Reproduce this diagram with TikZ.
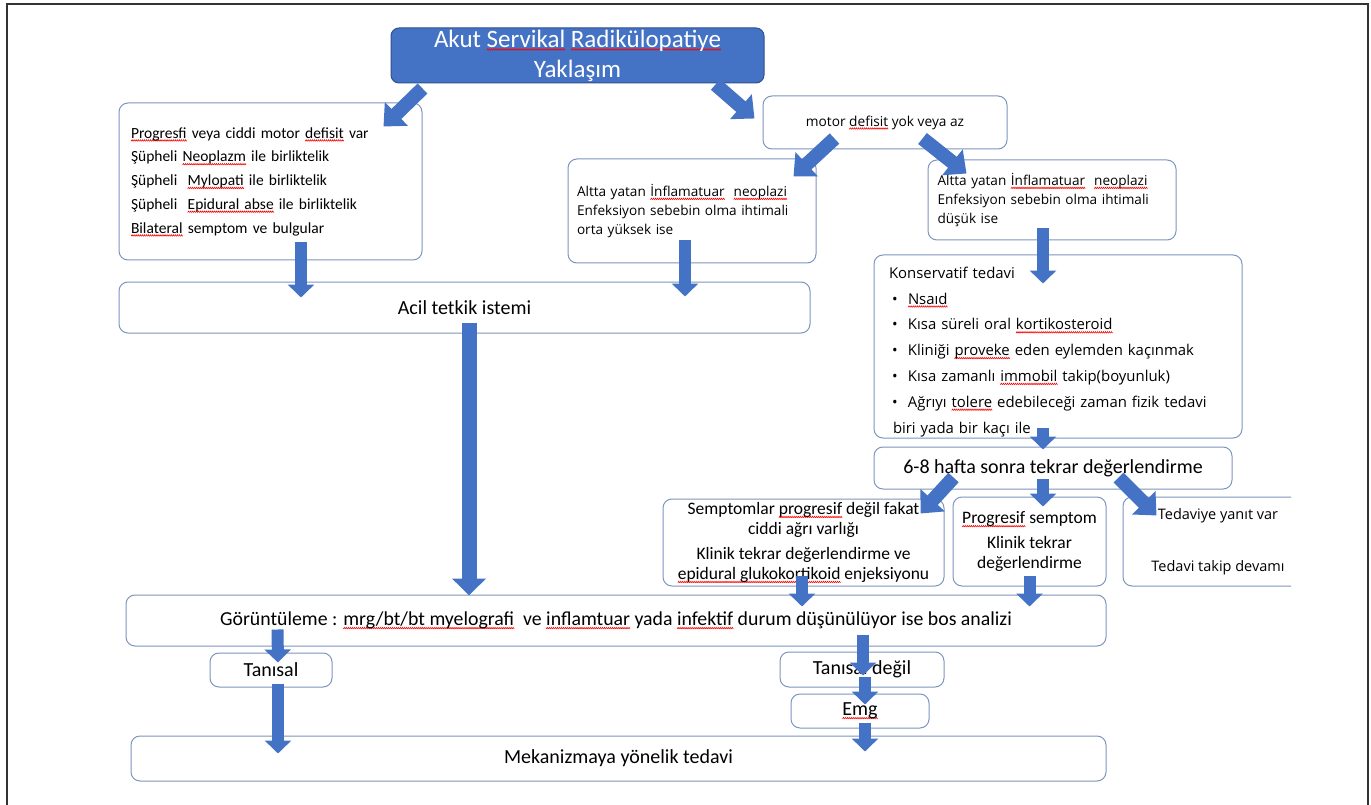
\documentclass[tikz,border=0pt]{standalone}
\usepackage{fontspec}
\setmainfont{Carlito}
\newfontfamily\seg{Open Sans}
\usetikzlibrary{arrows.meta,calc}
\definecolor{bblue}{HTML}{4472C4}
\definecolor{bdark}{HTML}{2F528F}
\definecolor{bord}{RGB}{125,150,190}
\newsavebox\wavebox
\newsavebox\sqwbox
\newcommand\sqw[1]{\sbox\sqwbox{#1}\leavevmode\rlap{\raisebox{-3.2pt}[0pt][0pt]{\hbox to \wd\sqwbox{\xleaders\copy\wavebox\hfil}}}#1}
\begin{document}
\sbox\wavebox{\begin{pgfpicture}%
\pgfsetlinewidth{0.6pt}\pgfsetstrokecolor{red}%
\pgfpathmoveto{\pgfpoint{0pt}{0pt}}\pgfpathlineto{\pgfpoint{1pt}{1.5pt}}\pgfpathlineto{\pgfpoint{2pt}{0pt}}\pgfusepath{stroke}%
\pgfresetboundingbox
\pgfpathrectangle{\pgfpoint{0pt}{0pt}}{\pgfpoint{2pt}{1.5pt}}\pgfusepath{}%
\end{pgfpicture}}%
\begin{tikzpicture}[x=1pt,y=-1pt,
  box/.style={draw=bord, line width=1pt, rounded corners=9pt, fill=white, inner sep=2pt},
  titlebox/.style={draw=bdark, fill=bblue, line width=1pt, rounded corners=8pt, text=white, align=center, inner sep=0pt, font=\fontsize{25}{30}\selectfont},
  varrow/.style={draw=bblue, line width=12pt, -{Triangle[width=26pt,length=13pt]}},
  bigarrow/.style={draw=bblue, line width=15pt, -{Triangle[width=33pt,length=17pt]}},
  darrow/.style={draw=bblue, line width=14pt, -{Triangle[width=32pt,length=18pt]}},
  frame/.style={draw=black!80, line width=1.5pt}
]
\useasboundingbox[fill=white] (0,0) rectangle (1371,805);
\draw[frame] (7,805) -- (7,4) -- (1368,4) -- (1368,805);

\node[titlebox, minimum width=373pt, minimum height=55pt] (title) at (577.5,55.5) {Akut \sqw{Servikal} \sqw{Radikülopatiye}\\Yaklaşım};

\node[box, text width=279pt, inner xsep=12pt, minimum height=157pt, align=left, font=\fontsize{15.5}{23.75}\selectfont] (L) at (270.5,181.5) {\sqw{Progresfi} veya ciddi motor \sqw{defisit} var\\
Şüpheli \sqw{Neoplazm} ile birliktelik\\
Şüpheli\ \ \sqw{Mylopati} ile birliktelik\\
Şüpheli\ \ \sqw{Epidural abse} ile birliktelik\\
\sqw{Bilateral} semptom ve bulgular};

\node[box, minimum width=244pt, minimum height=53pt, font=\seg\fontsize{13.7}{16}\selectfont] (M) at (885,122.5) {motor \sqw{defisit} yok veya az};

\node[box, text width=230pt, inner xsep=9pt, minimum height=104pt, align=left, font=\seg\fontsize{13.6}{19}\selectfont] (Mid) at (692,211) {Altta yatan \sqw{İnflamatuar}\ \ \sqw{neoplazi}\\Enfeksiyon sebebin olma ihtimali\\orta yüksek ise};

\node[box, text width=229pt, inner xsep=9.5pt, minimum height=80pt, align=left, font=\seg\fontsize{13.6}{19}\selectfont] (R) at (1052,200) {Altta yatan \sqw{İnflamatuar}\ \ \sqw{neoplazi}\\Enfeksiyon sebebin olma ihtimali\\düşük ise};

\node[box, minimum width=691pt, minimum height=51pt, font=\fontsize{20}{24}\selectfont] (Acil) at (464.5,307.5) {Acil tetkik istemi};

\node[box, text width=338pt, inner xsep=15pt, inner ysep=0pt, minimum height=183pt, align=left, font=\seg\fontsize{14.9}{25.8}\selectfont] (K) at (1058,346.5) {\rule{0pt}{22pt}Konservatif tedavi\\
\hspace*{3pt}\makebox[16pt][l]{•}\sqw{Nsaıd}\\
\hspace*{3pt}\makebox[16pt][l]{•}Kısa süreli oral \sqw{kortikosteroid}\\
\hspace*{3pt}\makebox[16pt][l]{•}Kliniği \sqw{proveke} eden eylemden kaçınmak\\
\hspace*{3pt}\makebox[16pt][l]{•}Kısa zamanlı \sqw{immobil} takip(boyunluk)\\
\hspace*{3pt}\makebox[16pt][l]{•}Ağrıyı \sqw{tolere} edebileceği zaman fizik tedavi\\
\hspace*{4pt}biri yada bir kaçı ile};

\node[box, minimum width=358pt, minimum height=42pt, font=\fontsize{20}{24}\selectfont] (H) at (1053,468) {6-8 hafta sonra tekrar değerlendirme};

\node[box, minimum width=281pt, minimum height=87pt, align=center, inner xsep=1pt, font=\fontsize{17.5}{20}\selectfont] (S) at (803.5,542.5) {Semptomlar \sqw{progresif} değil fakat\\ciddi ağrı varlığı\\[5pt]Klinik tekrar değerlendirme ve\\\sqw{epidural glukokortikoid} enjeksiyonu};

\node[box, minimum width=153pt, minimum height=89pt, align=center, inner xsep=1pt, font=\fontsize{17.5}{19.5}\selectfont] (P) at (1029.5,541.5) {\sqw{Progresif} semptom\\[5.5pt]Klinik tekrar\\değerlendirme};

\begin{scope}
\clip (1100,480) rectangle (1291,600);
\node[box, minimum width=190pt, minimum height=89pt, align=center, font=\seg\fontsize{14.5}{20}\selectfont] (T) at (1218,541.5) {Tedaviye yanıt var\\[32pt]Tedavi takip devamı};
\end{scope}

\node[box, minimum width=980pt, minimum height=51pt, font=\fontsize{19.8}{24}\selectfont] (G) at (616,620.5) {Görüntüleme : \sqw{mrg/bt/bt myelografi}\ \ ve \sqw{inflamtuar} yada \sqw{infektif} durum düşünülüyor ise bos analizi};

\node[box, minimum width=122pt, minimum height=34pt, font=\fontsize{20}{24}\selectfont] (Ts) at (271,670) {Tanısal};
\node[box, minimum width=164pt, minimum height=35pt, font=\fontsize{20}{24}\selectfont] (Td) at (862,669.5) {Tanısal değil};
\node[box, minimum width=138pt, minimum height=34pt, font=\fontsize{20}{24}\selectfont] (E) at (860,711) {\sqw{Emg}};
\node[box, minimum width=975pt, minimum height=45pt, font=\fontsize{20}{24}\selectfont] (Mk) at (618.5,758.5) {Mekanizmaya yönelik tedavi};

% arrows
\draw[darrow] ($(title.south west)+(32,5)$) -- ($(L.north east)+(-39,24)$);
\draw[darrow] ($(title.south east)+(-49,1)$) -- ($(M.north west)+(-8,23)$);
\draw[darrow] ($(M.south west)+(72,-11)$) -- ($(Mid.north east)+(-23,18)$);
\draw[darrow] ($(M.south west)+(160,-11)$) -- ($(R.north west)+(39,14)$);
\draw[varrow] ($(L.south)+(30.5,-18)$) -- ($(Acil.north)+(-163.5,16)$);
\draw[varrow] ($(Mid.south)+(-7,-23)$) -- ($(Acil.north)+(220.5,15)$);
\draw[varrow] ($(R.south)+(-9,-12)$) -- ($(K.north)+(-15,29)$);
\draw[bigarrow] ($(Acil.south)+(4.5,-11)$) -- ($(G.north)+(-147,1)$);
\draw[varrow] ($(K.south)+(-15,-11)$) -- ($(H.north)+(-10,3)$);
\draw[darrow] ($(H.south west)+(80,-12)$) -- ($(S.north east)+(-24,15)$);
\draw[varrow] ($(H.south)+(-10,-11)$) -- ($(P.north)+(13.5,10)$);
\draw[darrow] ($(H.south east)+(-114,-12)$) -- ($(T.north west)+(34,19)$);
\draw[varrow] ($(S.south)+(-1.5,-11)$) -- ($(G.north)+(186,12)$);
\draw[varrow] ($(P.south)+(0,-11)$) -- ($(G.north)+(413.5,12)$);
\draw[varrow] ($(G.south west)+(152,-17)$) -- ($(Ts.north)+(7,10)$);
\draw[varrow] ($(Ts.south)+(7,-4)$) -- ($(Mk.north)+(-340.5,18)$);
\draw[varrow] ($(G.south)+(247,-12)$) -- ($(Td.north)+(1,24)$);
\draw[varrow] ($(Td.south)+(3,-11)$) -- ($(E.north)+(5,11)$);
\draw[varrow] ($(E.south)+(5,-6)$) -- ($(Mk.north)+(246.5,16)$);
\end{tikzpicture}
\end{document}
